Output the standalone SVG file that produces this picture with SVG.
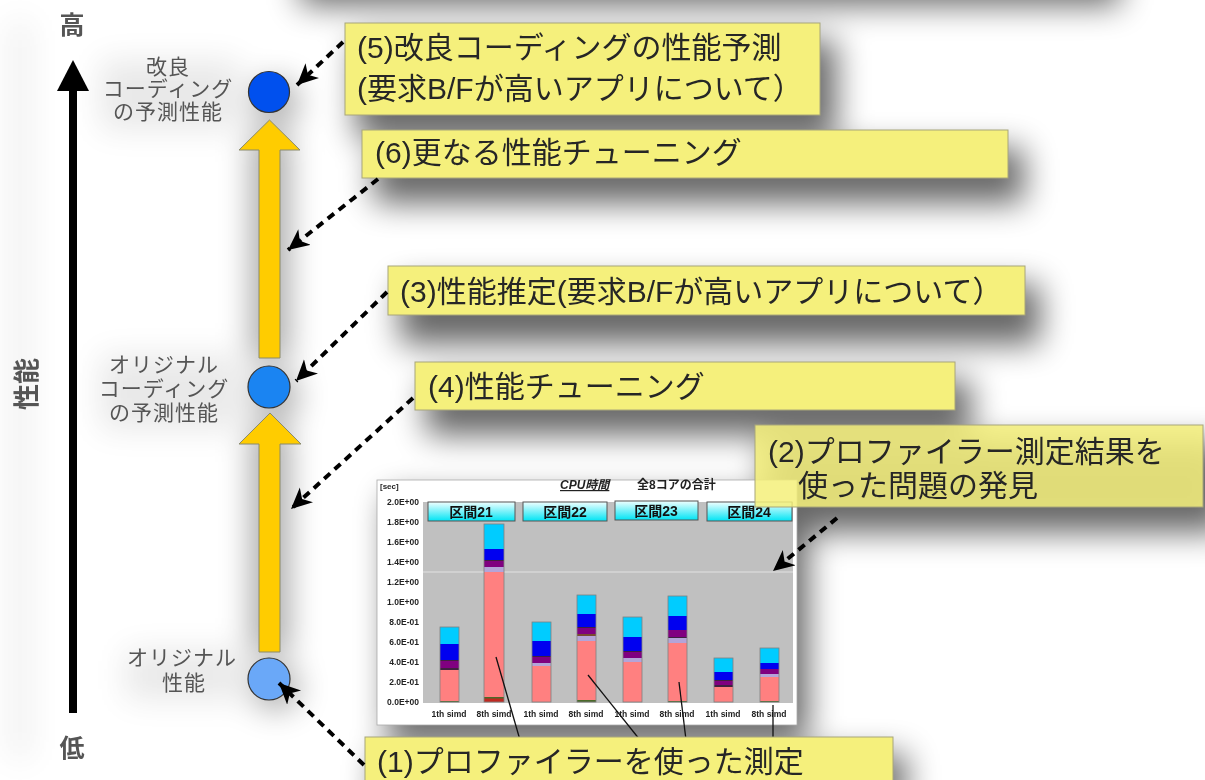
<svg xmlns="http://www.w3.org/2000/svg" width="1205" height="780" viewBox="0 0 1205 780">
<style>
.t{font-family:'Liberation Sans','Noto Sans CJK JP',sans-serif}
.box{fill:#f5f07c;stroke:#a8a67a;stroke-width:1}
.bt{font-size:30px;fill:#262626}
.lbl{font-size:21px;fill:#555;text-anchor:middle;letter-spacing:1px}
.ax{font-size:25px;fill:#555;font-weight:bold;text-anchor:middle}
.conn{fill:none;stroke:#000;stroke-width:4;stroke-dasharray:8 6;marker-end:url(#ah)}
.ya{fill:#ffcc00;stroke:#8a8a6a;stroke-width:1}
.yl{font-size:8.5px;font-weight:bold;fill:#222;text-anchor:end}
.xl{font-size:8.5px;font-weight:bold;fill:#222;text-anchor:middle}
.hd{fill:url(#cy);stroke:#555;stroke-width:1}
.ht{font-size:14px;font-weight:bold;fill:#111;text-anchor:middle}
.pk{fill:#ff8080}.lv{fill:#b4a4d8}.pu{fill:#800080}.dk{fill:#402040}.bl{fill:#0000f0}.cy{fill:#00ccff}.gr{fill:#4a6a2a}
.bar{fill:none;stroke:#808080;stroke-width:0.8}
.al{stroke:#111;stroke-width:1.3}
</style>
<defs>
<filter id="blur" x="-50%" y="-50%" width="200%" height="200%"><feGaussianBlur stdDeviation="16"/></filter>
<linearGradient id="cy" x1="0" y1="0" x2="0" y2="1"><stop offset="0" stop-color="#f0ffff"/><stop offset="1" stop-color="#00e4f4"/></linearGradient>
<marker id="ah" markerUnits="userSpaceOnUse" markerWidth="26" markerHeight="24" refX="21" refY="10" orient="auto"><path d="M0,0 L21,10 L0,20 L6,10 Z" fill="#000"/></marker>
</defs>
<rect width="1205" height="780" fill="#fff"/>
<g id="shadows" filter="url(#blur)" fill="#000" opacity="0.6">
<rect x="300" y="-45" width="820" height="50"/>
<rect x="356" y="40" width="480" height="98"/>
<rect x="374" y="148" width="650" height="55"/>
<rect x="400" y="284" width="640" height="60"/>
<rect x="426" y="380" width="545" height="55"/>
<rect x="766" y="442" width="460" height="90"/>
<rect x="388" y="496" width="420" height="245"/>
<rect x="376" y="754" width="530" height="50"/>
<rect x="252" y="132" width="36" height="230" opacity="0.6"/>
<rect x="252" y="425" width="36" height="230" opacity="0.6"/>
<circle cx="276" cy="102" r="22" opacity="0.6"/>
<circle cx="276" cy="396" r="22" opacity="0.6"/>
<circle cx="276" cy="688" r="22" opacity="0.6"/>
<rect x="100" y="60" width="140" height="70" opacity="0.15"/>
<rect x="100" y="355" width="140" height="75" opacity="0.15"/>
<rect x="125" y="650" width="120" height="50" opacity="0.15"/>
<rect x="10" y="20" width="20" height="740" opacity="0.12"/>
</g>
<g id="axis">
<line x1="73" y1="85" x2="73" y2="713" stroke="#000" stroke-width="8"/>
<path d="M73,60 L89,91 L57,91 Z" fill="#000"/>
<text class="t ax" x="72" y="34">高</text>
<text class="t ax" x="72" y="757">低</text>
<text class="t ax" transform="translate(36,384) rotate(-90)" style="font-size:26px">性能</text>
</g>
<g id="yellow-arrows">
<path class="ya" d="M259,358 L259,150 L239,150 L269.5,120 L300,150 L280,150 L280,358 Z"/>
<path class="ya" d="M259,652 L259,444 L239,444 L270,413 L301,444 L280,444 L280,652 Z"/>
</g>
<g id="node-improved">
<circle cx="269" cy="92" r="20.5" fill="#0050ee" stroke="#333" stroke-width="1.2"/>
<text class="t lbl" x="168" y="74">改良</text>
<text class="t lbl" x="168" y="96">コーディング</text>
<text class="t lbl" x="168" y="119">の予測性能</text>
</g>
<g id="node-original-pred">
<circle cx="269" cy="387" r="21" fill="#1a84f2" stroke="#333" stroke-width="1.2"/>
<text class="t lbl" x="164" y="372">オリジナル</text>
<text class="t lbl" x="164" y="396">コーディング</text>
<text class="t lbl" x="164" y="420">の予測性能</text>
</g>
<g id="node-original">
<circle cx="269" cy="679" r="21" fill="#6aa8f8" stroke="#333" stroke-width="1.2"/>
<text class="t lbl" x="182" y="665">オリジナル</text>
<text class="t lbl" x="184" y="690">性能</text>
</g>
<g id="chart">
<rect x="377" y="480" width="420" height="245" fill="#fff" stroke="#aaa" stroke-width="0.8"/>
<text class="t" x="380" y="489" style="font-size:8px;font-weight:bold" fill="#222">[sec]</text>
<text class="t" x="560" y="489" style="font-size:12px;font-weight:bold;font-style:italic;text-decoration:underline" fill="#222">CPU時間</text>
<text class="t" x="637" y="489" style="font-size:12px;font-weight:bold" fill="#222">全8コアの合計</text>
<rect x="423" y="502" width="370" height="201" fill="#c0c0c0"/>
<line x1="423" y1="572" x2="793" y2="572" stroke="#e2e2e2" stroke-width="1.2"/>
<g class="t">
<text class="yl" x="419" y="505">2.0E+00</text>
<text class="yl" x="419" y="525">1.8E+00</text>
<text class="yl" x="419" y="545">1.6E+00</text>
<text class="yl" x="419" y="565">1.4E+00</text>
<text class="yl" x="419" y="585">1.2E+00</text>
<text class="yl" x="419" y="605">1.0E+00</text>
<text class="yl" x="419" y="625">8.0E-01</text>
<text class="yl" x="419" y="645">6.0E-01</text>
<text class="yl" x="419" y="665">4.0E-01</text>
<text class="yl" x="419" y="685">2.0E-01</text>
<text class="yl" x="419" y="705">0.0E+00</text>
</g>
<rect class="hd" x="428" y="502" width="87" height="19"/>
<rect class="hd" x="523" y="502" width="84" height="19"/>
<rect class="hd" x="615" y="501" width="83" height="19"/>
<rect class="hd" x="707" y="502" width="85" height="19"/>
<g class="t">
<text class="ht" x="471" y="517">区間21</text>
<text class="ht" x="565" y="517">区間22</text>
<text class="ht" x="656" y="516">区間23</text>
<text class="ht" x="749" y="517">区間24</text>
</g>
<g id="bar1"><rect class="gr" x="440" y="701" width="19" height="1"/><rect class="pk" x="440" y="670" width="19" height="31"/><rect class="dk" x="440" y="668" width="19" height="2"/><rect class="pu" x="440" y="661" width="19" height="7"/><rect class="dk" x="440" y="660" width="19" height="1"/><rect class="bl" x="440" y="644" width="19" height="16"/><rect class="cy" x="440" y="627" width="19" height="17"/><rect class="bar" x="440" y="627" width="19" height="75"/></g>
<g id="bar2"><rect fill="#c02820" x="484" y="697" width="20" height="5"/><rect class="gr" x="484" y="697" width="20" height="1.5"/><rect class="pk" x="484" y="572" width="20" height="125"/><rect class="lv" x="484" y="567" width="20" height="5"/><rect class="pu" x="484" y="561" width="20" height="6"/><rect class="dk" x="484" y="560" width="20" height="1"/><rect class="bl" x="484" y="549" width="20" height="11"/><rect class="cy" x="484" y="524" width="20" height="25"/><rect class="bar" x="484" y="524" width="20" height="178"/></g>
<g id="bar3"><rect class="pk" x="532" y="666" width="19" height="36"/><rect class="lv" x="532" y="663" width="19" height="3"/><rect class="pu" x="532" y="657" width="19" height="6"/><rect class="dk" x="532" y="656" width="19" height="1"/><rect class="bl" x="532" y="641" width="19" height="15"/><rect class="cy" x="532" y="622" width="19" height="19"/><rect class="bar" x="532" y="622" width="19" height="80"/></g>
<g id="bar4"><rect class="gr" x="577" y="700" width="19" height="2"/><rect class="pk" x="577" y="641" width="19" height="59"/><rect class="lv" x="577" y="636" width="19" height="5"/><rect fill="#7a4a30" x="577" y="634" width="19" height="2"/><rect class="pu" x="577" y="628" width="19" height="6"/><rect class="dk" x="577" y="627" width="19" height="1"/><rect class="bl" x="577" y="614" width="19" height="13"/><rect class="cy" x="577" y="595" width="19" height="19"/><rect class="bar" x="577" y="595" width="19" height="107"/></g>
<g id="bar5"><rect class="pk" x="623" y="662" width="19" height="40"/><rect class="lv" x="623" y="658" width="19" height="4"/><rect class="pu" x="623" y="652" width="19" height="6"/><rect class="dk" x="623" y="651" width="19" height="1"/><rect class="bl" x="623" y="637" width="19" height="14"/><rect class="cy" x="623" y="617" width="19" height="20"/><rect class="bar" x="623" y="617" width="19" height="85"/></g>
<g id="bar6"><rect class="gr" x="668" y="701" width="19" height="1"/><rect class="pk" x="668" y="643" width="19" height="58"/><rect class="lv" x="668" y="638" width="19" height="5"/><rect class="dk" x="668" y="637" width="19" height="1"/><rect class="pu" x="668" y="630" width="19" height="7"/><rect class="bl" x="668" y="616" width="19" height="14"/><rect class="cy" x="668" y="596" width="19" height="20"/><rect class="bar" x="668" y="596" width="19" height="106"/></g>
<g id="bar7"><rect class="pk" x="714" y="687" width="19" height="15"/><rect class="dk" x="714" y="685" width="19" height="2"/><rect class="pu" x="714" y="681" width="19" height="4"/><rect class="dk" x="714" y="680" width="19" height="1"/><rect class="bl" x="714" y="672" width="19" height="8"/><rect class="cy" x="714" y="658" width="19" height="14"/><rect class="bar" x="714" y="658" width="19" height="44"/></g>
<g id="bar8"><rect class="gr" x="760" y="701" width="19" height="1"/><rect class="pk" x="760" y="677" width="19" height="24"/><rect class="lv" x="760" y="674" width="19" height="3"/><rect class="pu" x="760" y="669" width="19" height="5"/><rect class="bl" x="760" y="663" width="19" height="6"/><rect class="cy" x="760" y="648" width="19" height="15"/><rect class="bar" x="760" y="648" width="19" height="54"/></g>
<g class="t">
<text class="xl" x="449" y="717">1th simd</text>
<text class="xl" x="494" y="717">8th simd</text>
<text class="xl" x="541" y="717">1th simd</text>
<text class="xl" x="586" y="717">8th simd</text>
<text class="xl" x="632" y="717">1th simd</text>
<text class="xl" x="677" y="717">8th simd</text>
<text class="xl" x="723" y="717">1th simd</text>
<text class="xl" x="769" y="717">8th simd</text>
</g>
<line class="al" x1="496" y1="657" x2="520" y2="740"/>
<line class="al" x1="588" y1="675" x2="640" y2="740"/>
<line class="al" x1="679" y1="682" x2="686" y2="740"/>
<line class="al" x1="773" y1="705" x2="773" y2="740"/>
</g>
<g id="box5"><rect class="box" x="345" y="23" width="475" height="92"/><text class="t bt" x="357" y="58">(5)改良コーディングの性能予測</text><text class="t bt" x="357" y="99">(要求B/Fが高いアプリについて）</text></g>
<g id="box6"><rect class="box" x="362" y="130" width="646" height="48"/><text class="t bt" x="375" y="163" fill="#3a3a3a">(6)更なる性能チューニング</text></g>
<g id="box3"><rect class="box" x="388" y="266" width="637" height="49"/><text class="t bt" x="400" y="302">(3)性能推定(要求B/Fが高いアプリについて）</text></g>
<g id="box4"><rect class="box" x="415" y="362" width="540" height="48"/><text class="t bt" x="428" y="397">(4)性能チューニング</text></g>
<g id="box2"><rect class="box" x="755" y="425" width="448" height="82" fill-opacity="0.86"/><text class="t bt" x="768" y="462" fill="#3a3a3a">(2)プロファイラー測定結果を</text><text class="t bt" x="798" y="496" fill="#3a3a3a">使った問題の発見</text></g>
<g id="box1"><rect class="box" x="365" y="737" width="528" height="50"/><text class="t bt" x="377" y="772">(1)プロファイラーを使った測定</text></g>
<g id="connectors">
<path class="conn" d="M343,42 L297,85"/>
<path class="conn" d="M378,179 L288,250"/>
<path class="conn" d="M387,292 L296,381"/>
<path class="conn" d="M413,398 L291,509"/>
<path class="conn" d="M837,518 L773,571"/>
<path class="conn" d="M364,765 L279,683"/>
</g>
</svg>
